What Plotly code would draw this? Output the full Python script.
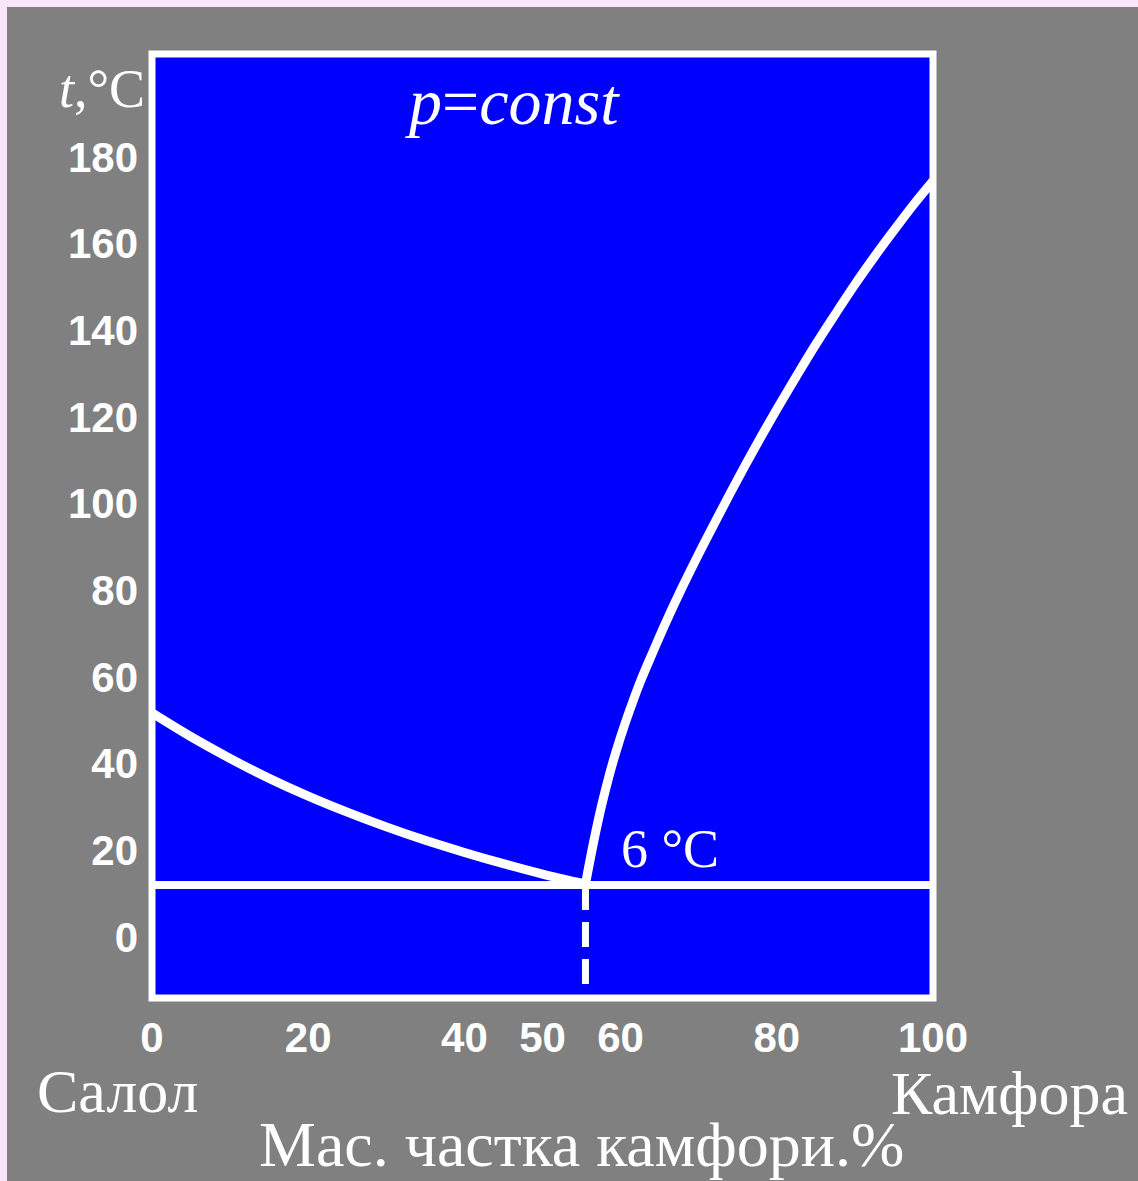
import plotly.graph_objects as go

# ---------------- data ----------------
salol_x = [0, 5, 10, 15, 20, 25, 30, 35, 40, 45, 50, 55.5]
salol_t = [51.7, 46.2, 41.2, 36.6, 32.5, 28.8, 25.4, 22.3, 19.5, 16.9, 14.5, 12.2]

camphor_x = [55.5, 56.5, 57.5, 58.5, 59.5, 60.5, 61.5, 62.5, 64, 66, 68, 70, 72, 74, 76, 78, 80,
             82.5, 85, 87.5, 90, 92.5, 95, 97.5, 100]
camphor_t = [12.2, 21.5, 29.8, 37.0, 43.3, 48.9, 54.0, 58.8, 65.2, 73.4, 81.1, 88.4, 95.4, 102.3,
             109.0, 115.5, 121.8, 129.4, 136.8, 143.8, 150.6, 157.0, 163.1, 169.0, 174.5]

eutectic_x = 55.5
eutectic_t = 12.0

x_ticks = [0, 20, 40, 50, 60, 80, 100]
y_ticks = [0, 20, 40, 60, 80, 100, 120, 140, 160, 180]

x_range = [0, 100]
y_range = [-14.1, 203.8]

# ---------------- layout geometry ----------------
W, H = 1138, 1181
L, R, T, B = 152, 933, 54, 998


def px(xpix):
    return (xpix - L) / (R - L)


def py(ypix):
    return (B - ypix) / (B - T)


WHITE = "#FFFFFF"
SERIF = "Liberation Serif"

fig = go.Figure()

line_style = dict(color=WHITE, width=9)
fig.add_trace(go.Scatter(x=salol_x, y=salol_t, mode="lines", line=line_style,
                         line_shape="spline", hoverinfo="skip"))
fig.add_trace(go.Scatter(x=camphor_x, y=camphor_t, mode="lines", line=line_style,
                         line_shape="spline", hoverinfo="skip"))
# eutectic horizontal line
fig.add_trace(go.Scatter(x=x_range, y=[eutectic_t, eutectic_t], mode="lines",
                         line=dict(color=WHITE, width=8), hoverinfo="skip"))
# eutectic composition dashed line
fig.add_trace(go.Scatter(x=[eutectic_x, eutectic_x], y=[eutectic_t, y_range[0]], mode="lines",
                         line=dict(color=WHITE, width=7, dash="25px,12px"), hoverinfo="skip"))

tickfont = dict(family="Liberation Sans", size=42, color=WHITE, weight="bold")

fig.update_xaxes(range=x_range, tickvals=x_ticks, ticktext=[str(v) for v in x_ticks],
                 showgrid=False, zeroline=False, showline=False, ticks="",
                 tickfont=tickfont, ticklabelstandoff=11, fixedrange=True)
fig.update_yaxes(range=y_range, tickvals=y_ticks, ticktext=[str(v) for v in y_ticks],
                 showgrid=False, zeroline=False, showline=False, ticks="",
                 tickfont=tickfont, ticklabelstandoff=13, fixedrange=True)

shapes = [
    # white frame
    dict(type="rect", xref="paper", yref="paper", x0=0, x1=1, y0=0, y1=1,
         line=dict(color=WHITE, width=7), layer="above"),
    # light pink edge strips (top and left)
    dict(type="rect", xref="paper", yref="paper", x0=px(0), x1=px(7), y0=py(H), y1=py(0),
         fillcolor="#FAE6FA", line=dict(width=0), layer="above"),
    dict(type="rect", xref="paper", yref="paper", x0=px(0), x1=px(W), y0=py(7), y1=py(0),
         fillcolor="#FAE6FA", line=dict(width=0), layer="above"),
]

annotations = [
    dict(text="<i>t</i>,°C", x=px(102), y=py(89), font=dict(family=SERIF, size=54, color=WHITE)),
    dict(text="<i>p</i>=<i>const</i>", x=px(512), y=py(102), font=dict(family=SERIF, size=66, color=WHITE)),
    dict(text="6 °C", x=px(670), y=py(849), font=dict(family=SERIF, size=54, color=WHITE)),
    dict(text="Салол", x=px(117), y=py(1091), font=dict(family=SERIF, size=62, color=WHITE)),
    dict(text="Камфора", x=px(1009), y=py(1093), font=dict(family=SERIF, size=62, color=WHITE)),
    dict(text="Мас. частка камфори.%", x=px(581), y=py(1144), font=dict(family=SERIF, size=64, color=WHITE)),
]
for a in annotations:
    a.update(xref="paper", yref="paper", showarrow=False, xanchor="center", yanchor="middle")

fig.update_layout(
    width=W, height=H,
    margin=dict(l=L, r=W - R, t=T, b=H - B, pad=0),
    paper_bgcolor="#808080",
    plot_bgcolor="#0000FF",
    showlegend=False,
    shapes=shapes,
    annotations=annotations,
)

fig.write_html("out.html")
